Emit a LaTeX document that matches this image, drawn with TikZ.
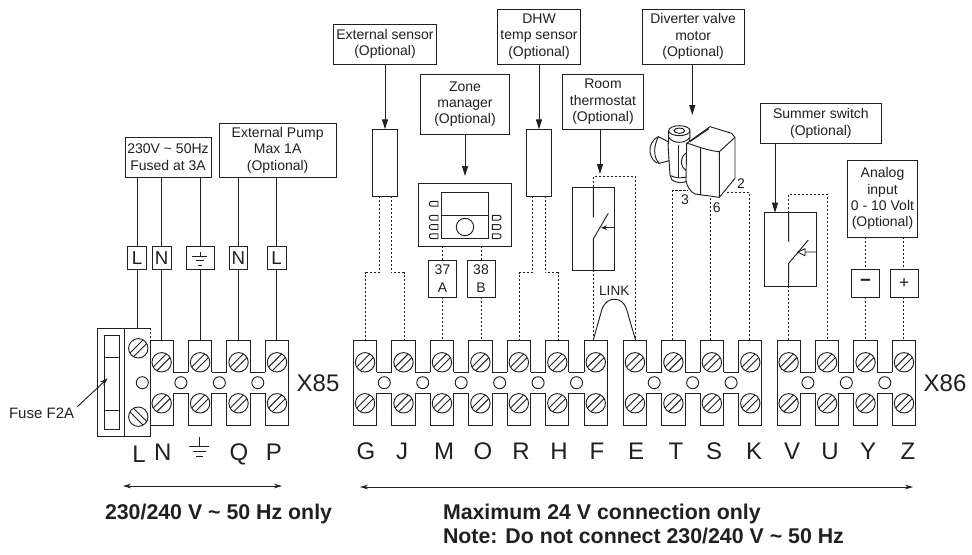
\documentclass[tikz,border=0pt]{standalone}
\usepackage{fontspec}
\setmainfont{Liberation Sans}
\usetikzlibrary{arrows.meta}
\definecolor{ink}{HTML}{231F20}
\tikzset{
  x=0.75pt,y=-0.75pt,
  every node/.style={text=ink,inner sep=0pt,outer sep=0pt},
  ln/.style={draw=ink,line width=0.7pt},
  wire/.style={ln},
  dot/.style={draw=ink,line width=0.75pt,dash pattern=on 1.6pt off 1.4pt},
  boxn/.style={ln,fill=white,align=center,font=\fontsize{10.5}{12.2}\selectfont},
  tag/.style={ln,fill=white,align=center,font=\fontsize{14}{14}\selectfont},
  tagsm/.style={ln,fill=white,align=center,font=\fontsize{10.5}{13}\selectfont},
  term/.style={font=\fontsize{18}{18}\selectfont},
  lett/.style={term,anchor=base},
  ptr/.style={ln,-{Triangle[length=7.5pt,width=4.5pt]}},
  note/.style={font=\fontsize{16}{16.5}\selectfont\bfseries,anchor=west},
  screw/.pic={\draw[ln,fill=white] (0,0) circle (9.7);
    \draw[ln] (-9.3,-2.6)--(9.3,-2.6) (-9.3,2.6)--(9.3,2.6);},
}
\newcommand\bx[7][boxn]{%
  \pgfmathsetmacro\cxx{(#3+#5)/2}\pgfmathsetmacro\cyy{(#4+#6)/2}%
  \pgfmathsetmacro\www{(#5-#3)*0.75}\pgfmathsetmacro\hhh{(#6-#4)*0.75}%
  \node[#1,minimum width=\www pt,minimum height=\hhh pt] (#2) at (\cxx,\cyy) {#7};}
\newcommand\block[2]{%
  \pgfmathtruncatemacro\lastk{#2-1}%
  \foreach \k in {0,...,\lastk}{%
    \pgfmathsetmacro\l{#1+38.45*\k}\pgfmathsetmacro\r{\l+23.3}\pgfmathsetmacro\sc{\l+11.65}%
    \draw[ln,line cap=rect] (\l,372)--(\l,340)--(\r,340)--(\r,372);
    \draw[ln,line cap=rect] (\l,393)--(\l,425)--(\r,425)--(\r,393);
    \pic[rotate=45] at (\sc,362.3) {screw};
    \pic[rotate=45] at (\sc,403.3) {screw};
    \ifnum\k<\lastk
      \pgfmathsetmacro\nx{\l+38.45}\pgfmathsetmacro\hx{\r+7.6}%
      \draw[ln] (\r,372)--(\nx,372) (\r,393)--(\nx,393);
      \draw[ln] (\hx,382.7) circle (6);
    \fi
  }%
  \pgfmathsetmacro\ee{#1+38.45*\lastk+23.3}%
  \draw[ln] (#1,372)--(#1,393) (\ee,372)--(\ee,393);
}
\newcommand\btn[3]{% x of flat side, y, direction
  \draw[ln,fill=white] (#1,#2-2.4) -- ++(#3*6.5,0) .. controls +(#3*3,0) and +(#3*3,0) .. ++(0,4.8) -- ++(-#3*6.5,0) -- cycle;}
\begin{document}
\begin{tikzpicture}
\useasboundingbox (0,0) rectangle (972,554);
% --- X85 block
\block{150}{4}
\draw[ln] (150,340)--(150,436.7)--(124,436.7)--(124,328)--(150,328);
\draw[ln] (97.7,328) rectangle (124,436.7);
\draw[ln] (104.3,335) rectangle (119,429) (104.3,357.7)--(119,357.7) (104.3,410.7)--(119,410.7);
\pic[rotate=45] at (138.3,348.3) {screw};
\pic[rotate=-45] at (138.3,416.7) {screw};
\draw[ln] (142.3,382.7) circle (6);
\draw[dot] (150,328)--(150,340);
\node[term] (x85) at (318,383) {X85};
\node[font=\fontsize{11.3}{11}\selectfont,anchor=west] (fuse) at (9,413) {Fuse F2A};
\coordinate (fuseTip) at (107.7,378.3);
\draw[ln,-{Stealth[length=6pt,width=4pt]}] (77.3,406.7)--(fuseTip);
% --- X86 blocks
\block{353.4}{7}
\block{623.3}{4}
\block{777}{4}
\node[term] (x86) at (945,383) {X86};
% terminal letters
\node[lett] (lL) at (139,462.7) {L};
\foreach \n/\t/\xx in {lN/N/162.7,lQ/Q/239,lP/P/274}{
  \node[lett] (\n) at (\xx,460) {\t};}
\foreach \n/\t/\xx in {lG/G/366,lJ/J/402,lM/M/444,lO/O/483,lR/R/521,lH/H/559,lF/F/597,lE/E/636,lT/T/676,lS/S/714,lK/K/754,lV/V/792,lU/U/830,lY/Y/868,lZ/Z/908}{
  \node[lett] (\n) at (\xx,459) {\t};}
% lower earth symbol
\draw[ln] (199,436.7)--(199,446.7) (189.3,446.7)--(208.7,446.7) (192.7,451.7)--(206,451.7) (196,456)--(202.7,456);
% --- terminal-top coordinates
\foreach \n/\xx in {pN/161.7,pE/200,pQ/238.3,pP/276.7,tG1/365.7,tG2/404,tM/442.7,tO/481,tR/519.7,tH/558.3,tF/593.3,tE/635.5,tT/672.7,tS/710.3,tK/749.3,tV/788.7,tU/827.3,tY/865.3,tZ/903.7}{
  \coordinate (\n) at (\xx,340);}
\coordinate (pL) at (137,328);
% --- mains + pump
\bx{mains}{125}{137.3}{211}{177.3}{230V \textasciitilde{} 50Hz\\Fused at 3A}
\bx{pump}{219.3}{123.3}{336}{177.3}{External Pump\\Max 1A\\(Optional)}
\bx[tag]{bL}{127.3}{246.7}{146.7}{269}{L}
\bx[tag]{bN}{152.3}{246.7}{171}{269}{N}
\bx[tag]{bE}{186.3}{246.7}{214}{269}{}
\bx[tag]{bQ}{229}{246.7}{247.7}{269}{N}
\bx[tag]{bP}{267.3}{246.7}{286}{269}{L}
\draw[ln] (200,251.7)--(200,256) (192.3,256)--(207.3,256) (196,260.7)--(204,260.7) (198.3,265)--(202,265);
\foreach \b/\p/\m in {bL/pL/mains,bN/pN/mains,bE/pE/mains,bQ/pQ/pump,bP/pP/pump}{
  \draw[wire] (\b.north |- \m.south)--(\b.north);
  \draw[wire] (\b.south)--(\b.south |- \p);}
% --- external sensor
\bx{extb}{333.3}{24}{436.7}{64}{External sensor\\(Optional)}
\bx{exts}{372.7}{129.3}{397.3}{196}{}
\draw[ptr] (extb.south)--(exts.north);
\draw[dot] (379,196)--(379,272.7)--(tG1 |- 0,272.7)--(tG1);
\draw[dot] (391,196)--(391,272.7)--(tG2 |- 0,272.7)--(tG2);
% --- zone manager
\bx{zoneb}{420.7}{74}{509.3}{134}{Zone\\manager\\(Optional)}
\bx{zone}{418.3}{183.3}{511.7}{246.3}{}
\coordinate (zoneTip) at (465,176);
\draw[ptr] (zoneb.south)--(zoneTip);
\draw[ln] (441.7,192.3) rectangle (488,238.7) (441.7,215.3)--(488,215.3);
\draw[ln] (465,227) circle (8.7);
\btn{438}{203.7}{-1}
\foreach \yy in {217.7,227,236.3}{\btn{438}{\yy}{-1}\btn{492.3}{\yy}{1}}
\bx[tagsm]{b37}{428.3}{260}{456.7}{297}{37\\A}
\bx[tagsm]{b38}{467}{260}{495}{297}{38\\B}
\draw[dot] (tM |- zone.south)--(tM |- b37.north) (tM |- b37.south)--(tM);
\draw[dot] (tO |- zone.south)--(tO |- b38.north) (tO |- b38.south)--(tO);
% --- DHW sensor
\bx{dhwb}{497.3}{9}{580.7}{64}{DHW\\temp sensor\\(Optional)}
\bx{dhws}{526.7}{129.3}{551.3}{196}{}
\draw[ptr] (dhwb.south)--(dhws.north);
\draw[dot] (532.7,196)--(532.7,272.7)--(tR |- 0,272.7)--(tR);
\draw[dot] (545,196)--(545,272.7)--(tH |- 0,272.7)--(tH);
% --- room thermostat
\bx{roomb}{562.7}{74}{643.3}{129.3}{Room\\thermostat\\(Optional)}
\bx{rooms}{572.7}{187.3}{614.3}{270.3}{}
\coordinate (roomTip) at (600,174);
\draw[ptr] (roomb.south -| roomTip)--(roomTip);
\draw[dot] (593.3,187.3)--(593.3,176.7)--(635.5,176.7)--(tE);
\draw[dot] (593.3,270.3)--(tF);
\draw[ln] (593.3,187.3)--(593.3,217.3) (593.3,270.3)--(593.3,239)--(608.3,213.3);
\draw[ln,-{Stealth[length=4.5pt,width=3.5pt]}] (614.3,227.7)--(601,227.7);
% LINK
\node[font=\fontsize{10.2}{10}\selectfont] (link) at (614.3,291) {LINK};
\draw[ln] (tF) -- (602,309) .. controls (605,302) and (609,299.3) .. (614.3,299.3) .. controls (620,299.3) and (624,302) .. (626.5,309) -- (tE);
% --- valve
\bx{valveb}{642.3}{9}{744}{64}{Diverter valve\\motor\\(Optional)}
\coordinate (valveTip) at (692.3,115);
\draw[ptr] (valveb.south -| valveTip)--(valveTip);
\begin{scope}[shift={(640,0)},x=0.25pt,y=-0.25pt]
  % side port
  \draw[ln,fill=white] (85,425) -- (55,410) .. controls (35,420) and (28,440) .. (30,455) .. controls (32,475) and (45,490) .. (58,490) -- (88,482) -- cycle;
  \draw[ln] (55,410) .. controls (48,425) and (44,440) .. (44,452) .. controls (44,470) and (50,484) .. (58,490);
  % body
  \draw[ln,fill=white] (86,395)--(86,428)--(84,432)--(90,525)--(96,540) .. controls (110,550) and (130,550) .. (145,542)--(150,395) -- cycle;
  \draw[ln] (92,527) .. controls (105,535) and (130,535) .. (145,530);
  \draw[ln] (115,435)--(115,530);
  \draw[ln] (140,458) .. controls (120,470) and (118,500) .. (140,512);
  % collar
  \draw[ln] (86,412) .. controls (100,432) and (135,432) .. (150,412);
  \draw[ln,fill=white] (118,392) ellipse (32 and 15);
  \draw[ln] (118,392) ellipse (16 and 8);
  % motor
  \draw[ln,fill=white,line join=round] (140,430)--(210,380)--(275,400)--(285,412)--(285,535)--(238,592)--(165,582) .. controls (152,576) and (140,560) .. (138,540)--cycle;
  \draw[ln,line join=round] (140,430)--(150,432) .. controls (180,442) and (205,452) .. (238,455)--(285,412) (238,455)--(238,592) (182,445)--(182,586);
  \draw[ln] (150,425)--(207,386);
\end{scope}
\node[font=\fontsize{10.5}{10.5}\selectfont] (n3) at (685,200) {3};
\node[font=\fontsize{10.5}{10.5}\selectfont] (n6) at (716.7,208) {6};
\node[font=\fontsize{10.5}{10.5}\selectfont] (n2) at (741,184) {2};
\draw[dot] (tT)--(672.7,190.7)--(688,190.7);
\draw[dot] (tS)--(710.3,197);
\draw[dot] (tK)--(749.3,192.3)--(726.7,192.3);
% --- summer switch
\bx{sumb}{760.7}{103.3}{881}{143.3}{Summer switch\\(Optional)}
\bx{sums}{764}{212.7}{816}{286}{}
\coordinate (sumTip) at (775,212.7);
\draw[ptr] (sumb.south -| sumTip)--(sumTip);
\draw[dot] (tV)--(788.7,286) (788.7,212.7)--(788.7,194.3)--(827.3,194.3)--(tU);
\draw[ln] (788.7,212.7)--(788.7,241.7) (788.7,286)--(788.7,263.3)--(808.3,240);
\draw[ln] (816,252)--(805,252) (805,248.7)--(805,255.7)--(797.7,252)--cycle;
% --- analog input
\bx{anab}{847.7}{160}{917.3}{237.3}{Analog\\input\\0 - 10 Volt\\(Optional)}
\bx[tagsm]{bmin}{851.3}{269.3}{879.7}{297.3}{\fontsize{14}{14}\selectfont\bfseries −}
\bx[tagsm]{bplus}{890}{269.3}{918.3}{297.3}{\fontsize{13}{13}\selectfont +}
\draw[dot] (tY |- anab.south)--(tY |- bmin.north) (tY |- bmin.south)--(tY);
\draw[dot] (tZ |- anab.south)--(tZ |- bplus.north) (tZ |- bplus.south)--(tZ);
% --- bottom
\coordinate (a1) at (123,486); \coordinate (a2) at (282,486);
\coordinate (b1) at (360,487); \coordinate (b2) at (913,487);
\draw[ln,{Stealth[length=6pt,width=3.5pt]}-{Stealth[length=6pt,width=3.5pt]}] (a1)--(a2);
\draw[ln,{Stealth[length=6pt,width=3.5pt]}-{Stealth[length=6pt,width=3.5pt]}] (b1)--(b2);
\node[note] (t1) at (105,514) {230/240 V \textasciitilde{} 50 Hz only};
\node[note] (t2) at (443,514) {Maximum 24 V connection only};
\node[note] (t3) at (443,536) {Note: Do not connect 230/240 V \textasciitilde{} 50 Hz};
\end{tikzpicture}
\end{document}
